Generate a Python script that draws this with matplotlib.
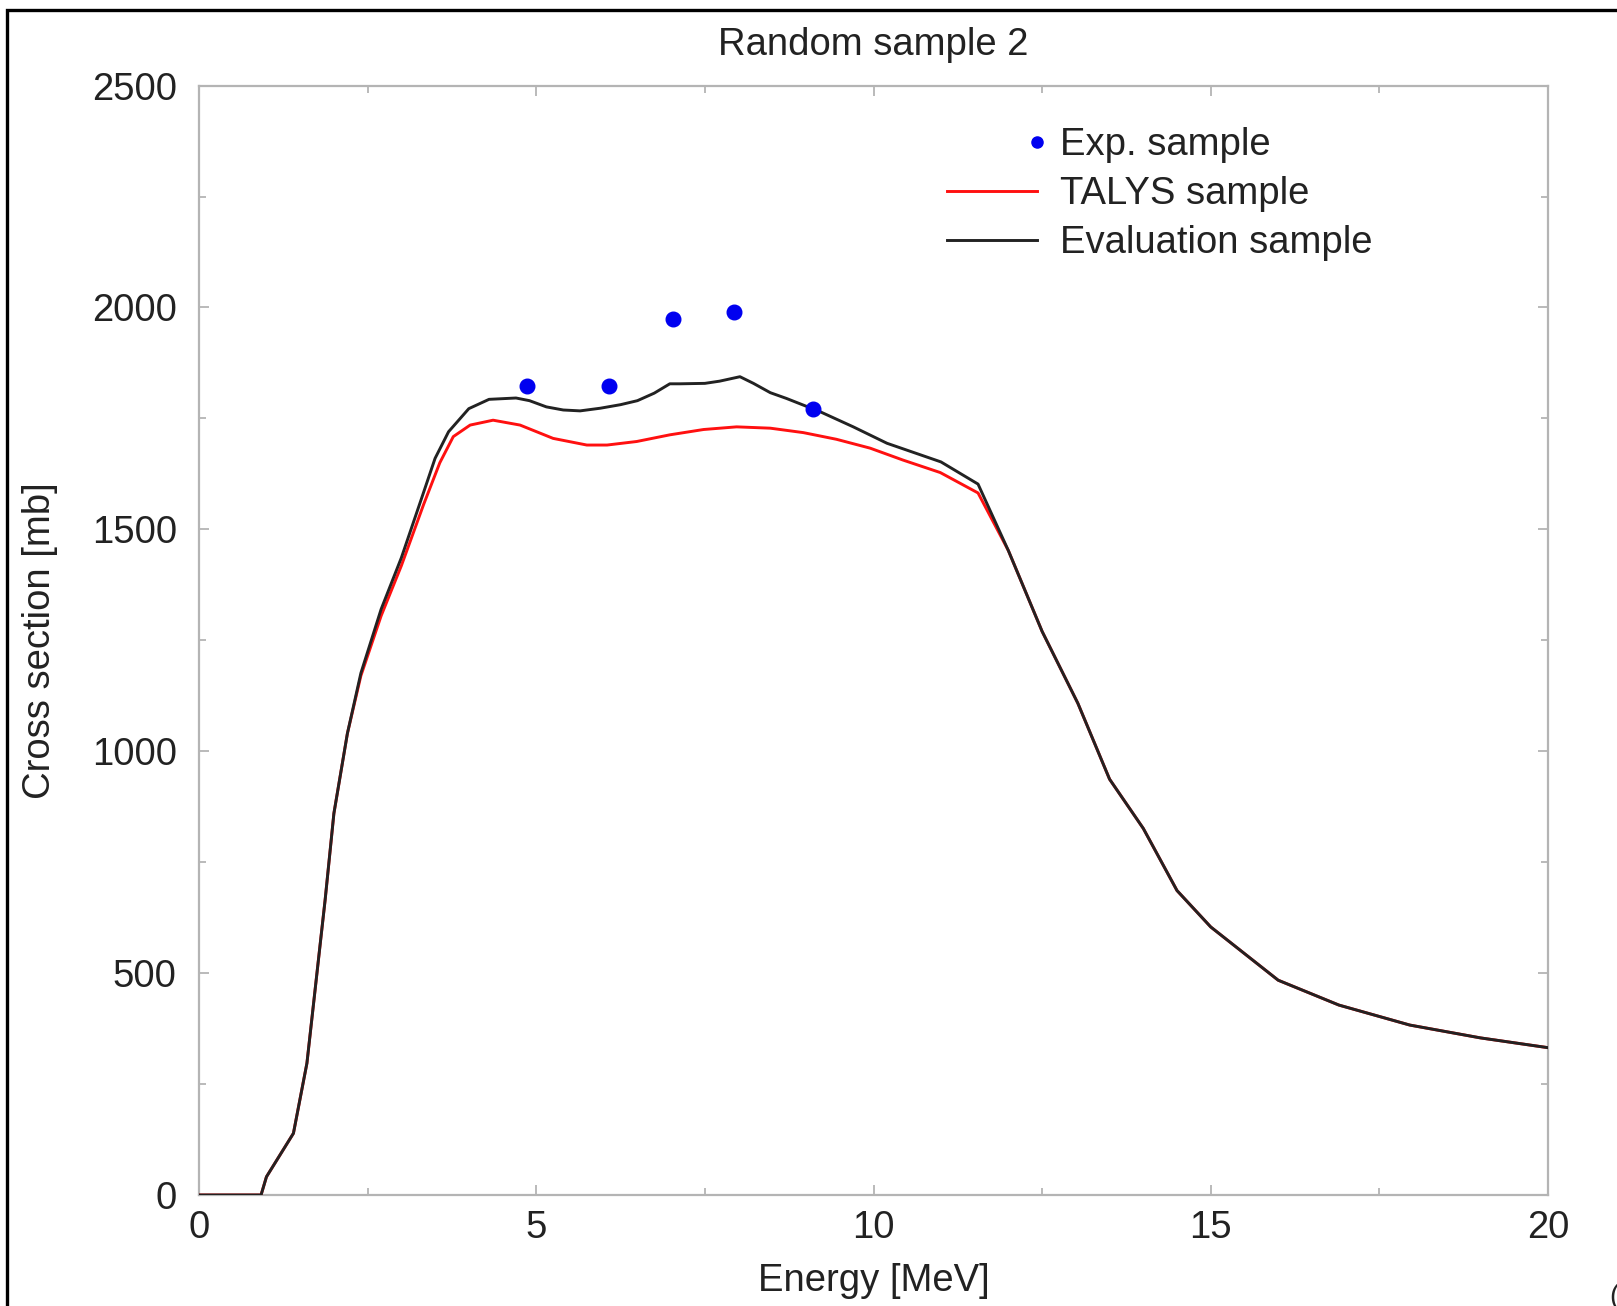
import numpy as np
import matplotlib
matplotlib.use('Agg')
import matplotlib.pyplot as plt
from matplotlib.legend_handler import HandlerLine2D
from matplotlib.patches import Rectangle

plt.rcParams['font.family'] = ['Liberation Sans', 'DejaVu Sans']

# ---------------- data ----------------
exp_energy = [4.87, 6.08, 7.03, 7.93, 9.10]
exp_xs = [1823, 1823, 1973, 1989, 1771]

eval_energy = [0.0, 0.92, 1.0, 1.4, 1.6, 1.8, 1.87, 2.0, 2.2, 2.4, 2.7, 3.0,
               3.3, 3.5, 3.7, 4.0, 4.3, 4.7, 4.9, 5.15, 5.4, 5.65, 5.95,
               6.25, 6.5, 6.75, 6.98, 7.13, 7.5, 7.72, 8.02, 8.22, 8.47,
               8.71, 9.21, 9.7, 10.2, 11.0, 11.55, 12.0, 12.5, 13.03, 13.5,
               14.0, 14.5, 15.0, 16.0, 16.9, 17.95, 19.0, 20.0]
eval_xs = [0, 0, 41, 139, 297, 570, 665, 860, 1040, 1176, 1320, 1436,
           1570, 1660, 1720, 1772, 1793, 1796, 1790, 1776, 1769, 1767, 1773,
           1781, 1790, 1807, 1828, 1828, 1829, 1834, 1844, 1829, 1808,
           1795, 1765, 1731, 1694, 1652, 1602, 1452, 1270, 1108, 937,
           826, 686, 604, 484, 428, 383, 354, 332]

talys_energy = [0.0, 0.92, 1.0, 1.4, 1.6, 1.8, 1.87, 2.0, 2.2, 2.4, 2.7, 3.0,
                3.33, 3.57, 3.77, 4.02, 4.36, 4.76, 5.25, 5.75, 6.05, 6.49,
                6.98, 7.48, 7.97, 8.47, 8.96, 9.45, 9.95, 10.44, 10.99,
                11.55, 12.0, 12.5, 13.03, 13.5, 14.0, 14.5, 15.0, 16.0,
                16.9, 17.95, 19.0, 20.0]
talys_xs = [0, 0, 41, 139, 297, 570, 665, 860, 1040, 1170, 1305, 1418,
            1556, 1650, 1709, 1735, 1746, 1735, 1705, 1690, 1690, 1698,
            1713, 1725, 1731, 1728, 1718, 1703, 1683, 1656, 1628,
            1582, 1452, 1270, 1108, 937, 826, 686, 604, 484,
            428, 383, 354, 332]

x_ticks = [0, 5, 10, 15, 20]
y_ticks = [0, 500, 1000, 1500, 2000, 2500]

# ---------------- figure ----------------
W, H = 1617, 1306
fig = plt.figure(figsize=(W / 100, H / 100), dpi=100)
fig.patch.set_facecolor('white')

ax_l, ax_r, ax_t, ax_b = 199, 1548, 85.6, 1195
ax = fig.add_axes([ax_l / W, 1 - ax_b / H, (ax_r - ax_l) / W, (ax_b - ax_t) / H])

fs = 27.5
txt_col = '#222222'
grey = '#b4b4b4'

ax.plot(talys_energy, talys_xs, color='#ff1010', lw=2.1, label='TALYS sample', zorder=3)
ax.plot(eval_energy, eval_xs, color='#222222', lw=2.1, label='Evaluation sample', zorder=4)
ax.plot(exp_energy, exp_xs, linestyle='none', marker='o', ms=10.5,
        color='#0000f0', mec='#0000f0', label='Exp. sample', zorder=5)

ax.set_xlim(0, 20)
ax.set_ylim(0, 2500)
ax.set_xticks(x_ticks)
ax.set_yticks(y_ticks)
ax.set_xticks(np.arange(0, 20.1, 2.5), minor=True)
ax.set_yticks(np.arange(0, 2501, 250), minor=True)

for sp in ax.spines.values():
    sp.set_color(grey)
    sp.set_linewidth(1.6)

ax.tick_params(which='both', direction='in', top=True, right=True, color=grey,
               width=1.3, labelcolor=txt_col, labelsize=fs)
ax.tick_params(which='major', length=7.5)
ax.tick_params(which='minor', length=5)
ax.tick_params(axis='y', which='major', pad=16)
ax.tick_params(axis='x', which='major', pad=11)

ax.set_title('Random sample 2', fontsize=fs, color=txt_col, pad=22)
ax.set_xlabel('Energy [MeV]', fontsize=fs, color=txt_col, va='center')
ax.xaxis.set_label_coords(0.5, -(1281 - ax_b) / (ax_b - ax_t))
ax.set_ylabel('Cross section [mb]', fontsize=fs, color=txt_col, va='center')
ax.yaxis.set_label_coords(-(ax_l - 40) / (ax_r - ax_l), 0.5)


class RightMarkerHandler(HandlerLine2D):
    """Place the single legend marker at the right end of the sample."""
    def get_xdata(self, legend, xdescent, ydescent, width, height, fontsize):
        x = np.array([-xdescent + width])
        return x, x


handles, labels = ax.get_legend_handles_labels()
order = [2, 0, 1]
leg = ax.legend([handles[i] for i in order], [labels[i] for i in order],
                loc='upper left',
                bbox_to_anchor=((947 - ax_l) / (ax_r - ax_l), (ax_b - 127) / (ax_b - ax_t)),
                frameon=False, fontsize=fs, borderpad=0, borderaxespad=0,
                handlelength=2.35, handletextpad=0.6, labelspacing=0.34,
                handler_map={handles[2]: RightMarkerHandler(numpoints=2)})
for t in leg.get_texts():
    t.set_color(txt_col)
leg.legend_handles[0].set_markersize(8)

# outer black frame (cropped at right and bottom)
fig.patches.append(Rectangle((7 / W, -0.05), 1.2, 1 - 10 / H + 0.05, transform=fig.transFigure,
                             fill=False, edgecolor='black', lw=2.4, clip_on=False))
fig.text(1609 / W, 1 - 1297 / H, '(a)', fontsize=20, ha='left', va='center', color=txt_col)

fig.savefig('out.png', dpi=100, facecolor='white')
